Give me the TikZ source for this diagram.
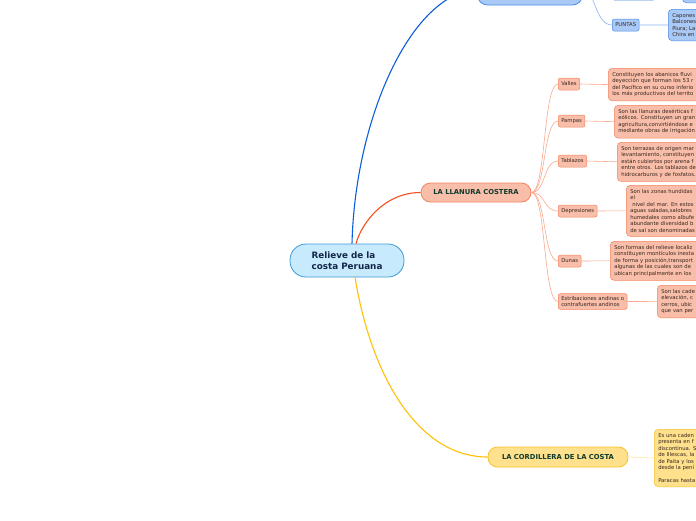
\documentclass[tikz,border=0pt]{standalone}
\usepackage{fontspec}
\setmainfont{DejaVu Sans}
\usepackage{tikz}
\usetikzlibrary{positioning}
\definecolor{rootfill}{HTML}{C7EBFD}
\definecolor{rootline}{HTML}{3E9AD6}
\definecolor{rootink}{HTML}{14264A}
\definecolor{headink}{HTML}{0D3B2E}
\definecolor{descink}{HTML}{35261E}
\definecolor{bluewire}{HTML}{0B5ED7}
\definecolor{bluefill}{HTML}{A9C9F7}
\definecolor{blueline}{HTML}{4F8DE6}
\definecolor{bluethin}{HTML}{8AB4F0}
\definecolor{orwire}{HTML}{F4511E}
\definecolor{orfill}{HTML}{F9BEA9}
\definecolor{orline}{HTML}{F3855F}
\definecolor{orthin}{HTML}{F8A98E}
\definecolor{yewire}{HTML}{FFC107}
\definecolor{yefill}{HTML}{FFE08C}
\definecolor{yeline}{HTML}{F8C22A}
\definecolor{yethin}{HTML}{FFE7A0}
\tikzset{
  rootbox/.style={draw=rootline,fill=rootfill,line width=0.8pt,rounded corners=16pt,
    minimum width=114pt,minimum height=33pt,inner sep=0pt,align=left,
    font=\bfseries\fontsize{8.8}{11}\selectfont,text=rootink},
  brbox/.style={line width=0.8pt,rounded corners=9.5pt,minimum height=19pt,inner sep=0pt,
    font=\bfseries\fontsize{6.8}{8}\selectfont,text=headink},
  brbox-o/.style={brbox,draw=orline,fill=orfill},
  brbox-y/.style={brbox,draw=yeline,fill=yefill},
  brbox-b/.style={brbox,draw=blueline,fill=bluefill,rounded corners=10pt},
  kidbox/.style={draw=orline,fill=orfill,line width=0.5pt,rounded corners=2pt,
    inner xsep=3pt,inner ysep=2.5pt,minimum height=12pt,anchor=west,align=left,
    font=\fontsize{5.3}{6.5}\selectfont,text=descink},
  kidbox-b/.style={kidbox,draw=blueline,fill=bluefill},
  descbox/.style={draw=orline,fill=orfill,line width=0.5pt,rounded corners=4pt,
    inner sep=4pt,text width=130pt,align=left,anchor=north west,
    font=\fontsize{5.3}{6.5}\selectfont,text=descink},
  descbox-b/.style={descbox,draw=blueline,fill=bluefill},
  descbox-y/.style={descbox,draw=yeline,fill=yefill},
  wire/.style={line width=1.1pt},
  twig/.style={line width=0.6pt,draw=orthin},
}
\begin{document}
\begin{tikzpicture}[x=1pt,y=-1pt]
  \useasboundingbox (0,0) rectangle (696,520);
  \clip (0,0) rectangle (696,520);
  \fill[white] (0,0) rectangle (696,520);

  % main topic
  \node[rootbox] (root) at (347,260.5) {Relieve de la\\costa Peruana};

  % three branches
  \node[brbox-b,minimum width=105pt,minimum height=32pt] (litoral) at (530,-11) {};
  \node[brbox-o,minimum width=110pt] (llanura) at (476,192.5) {LA LLANURA COSTERA};
  \node[brbox-y,minimum width=140pt,minimum height=20pt] (cordi) at (558,457) {LA CORDILLERA DE LA COSTA};

  \draw[wire,bluewire] (root.north)++(5,0) .. controls (355,120) and (410,-6) .. (litoral.west);
  \draw[wire,orwire] (root.north)++(9,0) .. controls (362,222) and (385,192.5) .. (llanura.west);
  \draw[wire,yewire] (root.south)++(8,0) .. controls (372,380) and (420,457) .. (cordi.west);

  % blue branch (mostly off the top)
  \node[kidbox-b,minimum width=43pt] (cabos) at (612,-6) {};
  \node[kidbox-b] (puntas) at (612,25) {PUNTAS};
  \node[descbox-b,anchor=south west,text width=40pt,minimum height=20pt] (cabosd) at (682,3) {};
  \node[descbox-b] (puntasd) at (668,9) {Capones\\Balcones\\Piura; La\\Chira en};
  \draw[twig,bluethin] (litoral.east) .. controls (595,-11) and (598,-6) .. (cabos.west);
  \draw[twig,bluethin] (litoral.east) .. controls (595,-11) and (595,25) .. (puntas.west);
  \draw[twig,bluethin] (cabos.east) -- (cabosd.west);
  \draw[twig,bluethin] (puntas.east) -- (puntasd.west);

  % llanura costera
  \node[kidbox] (valles) at (558,84) {Valles};
  \node[kidbox] (pampas) at (558,121) {Pampas};
  \node[kidbox] (tablazos) at (558,161) {Tablazos};
  \node[kidbox] (depres) at (558,211) {Depresiones};
  \node[kidbox] (dunas) at (558,261) {Dunas};
  \node[kidbox] (estrib) at (558,301.5) {Estribaciones andinas o\\contrafuertes andinos};

  \node[descbox] (vallesd) at (608,68) {Constituyen los abanicos fluvi\\deyección que forman los 53 r\\del Pacífico en su curso inferio\\los más productivos del territo};
  \node[descbox] (pampasd) at (614,105) {Son las llanuras desérticas f\\eólicos. Constituyen un gran\\agricultura,convirtiéndose e\\mediante obras de irrigación};
  \node[descbox] (tablazosd) at (617,142) {Son terrazas de origen mar\\levantamiento, constituyen\\están cubiertos por arena f\\entre otros. Los tablazos de\\hidrocarburos y de fosfatos.};
  \node[descbox] (depresd) at (626,185) {Son las zonas hundidas\\el\\\hspace*{2pt}nivel del mar. En estos\\aguas saladas,salobres\\humedales como albufe\\abundante diversidad b\\de sal son denominadas};
  \node[descbox] (dunasd) at (610,241) {Son formas del relieve localiz\\constituyen montículos inesta\\de forma y posición,transport\\algunas de las cuales son de\\ubican principalmente en los};
  \node[descbox] (estribd) at (657,285) {Son las cade\\elevación, c\\cerros, ubic\\que van per};

  \foreach \k in {valles,pampas,tablazos,depres,dunas,estrib}{
    \draw[twig] (llanura.east) .. controls (546,192.5) and (543,0|-\k.west) .. (\k.west);
    \draw[twig] (\k.east) -- (\k d.west);
  }

  % cordillera de la costa
  \node[descbox-y] (cordid) at (654,429) {Es una caden\\presenta en f\\discontinua. S\\de Illescas, la\\de Paita y los\\desde la pení\\~\\Paracas hasta};
  \draw[twig,yethin] (cordi.east) -- (cordid.west);
\end{tikzpicture}
\end{document}
